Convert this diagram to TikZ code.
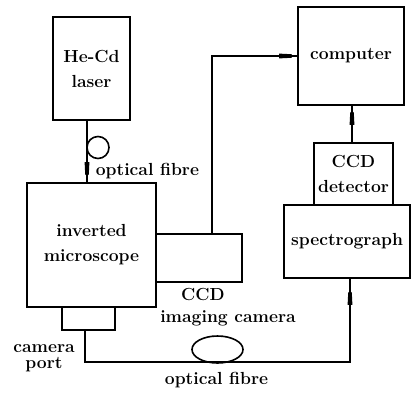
\documentclass[tikz,border=0pt]{standalone}
\usepackage{fontspec}
\setmainfont{Latin Modern Roman}
\usetikzlibrary{decorations.markings,shapes.geometric}
\begin{document}
\begin{tikzpicture}[x=1pt,y=-1pt,line width=1.6pt,
  box/.style={draw,rectangle,inner sep=0pt,align=center,font=\fontsize{17.5}{25}\selectfont\bfseries},
  lbl/.style={inner sep=0pt,align=center,font=\fontsize{17.5}{25}\selectfont\bfseries},
  blob/.style={postaction={decorate},decoration={markings,
    mark=at position #1 with {\fill (-7,-2.4) -- (5,-1.8) -- (7,0) -- (5,1.8) -- (-7,2.4) -- cycle;}}},
  blob/.default=0.5]
\useasboundingbox (0,0) rectangle (411,392);

\node[box,minimum width=77,minimum height=103] (laser) at (91.5,68.5) {He-Cd\\laser};
\node[box,minimum width=129,minimum height=124] (micro) at (91.5,245) {inverted\\microscope};
\node[box,minimum width=53,minimum height=23] (port) at (88.5,318.5) {};
\node[box,minimum width=86,minimum height=48] (ccdcam) at (199,258) {};
\node[box,minimum width=106,minimum height=98] (comp) at (351,56) {computer};
\node[box,minimum width=79,minimum height=62] (ccddet) at (353.5,174) {CCD\\detector};
\node[box,minimum width=126,minimum height=73] (spec) at (347,241.5) {spectrograph};

\node[draw,circle,minimum size=22,inner sep=0pt] (loop1) at (98,147.5) {};
\node[draw,ellipse,minimum width=51,minimum height=27,inner sep=0pt] (loop2) at (217.5,349.5) {};

\node[lbl,anchor=base west] (lf1) at (95,175) {optical fibre};
\node[lbl,anchor=base] (lf2) at (216.5,384) {optical fibre};
\node[lbl,anchor=base] (camlbl1) at (203,300) {CCD};
\node[lbl,anchor=base] (camlbl2) at (228,322) {imaging camera};
\node[lbl,anchor=base,font=\fontsize{17.5}{16}\selectfont\bfseries] (portlbl) at (44,368) {camera\\port};

% fibre laser -> microscope
\draw[blob=-13pt] ([xshift=-4.5pt]laser.south) -- ([xshift=-4.5pt]micro.north);
% fibre camera port -> spectrograph
\coordinate (fbl) at (85,362);
\coordinate (fbr) at (350,362);
\draw[blob=-19pt] (port.south -| fbl) -- (fbl) -- (fbr) -- (spec.south -| fbr);
% CCD imaging camera -> computer
\coordinate (cc) at (212,56);
\draw[blob=-11pt] (ccdcam.north -| cc) -- (cc) -- (comp.west);
% CCD detector -> computer
\draw[blob=-12pt] ([xshift=-1.5pt]ccddet.north) -- ([xshift=-1.5pt]ccddet.north |- comp.south);
\end{tikzpicture}
\end{document}
